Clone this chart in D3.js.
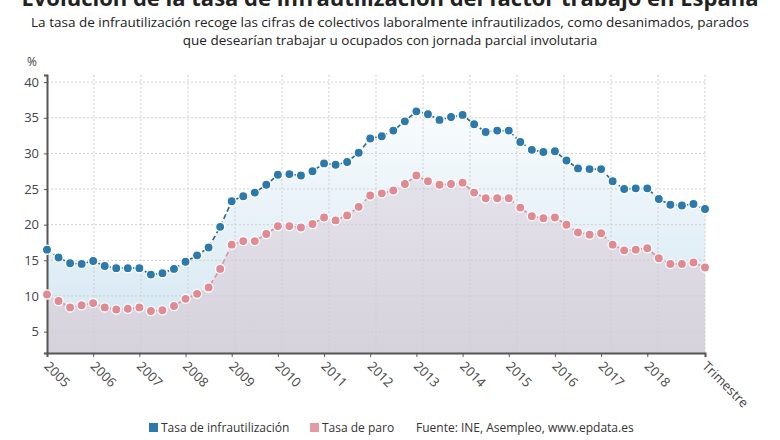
<!DOCTYPE html>
<html lang="es">
<head>
<meta charset="UTF-8">
<title>Evolución de la tasa de infrautilización</title>
<script src="https://cdn.jsdelivr.net/npm/d3@7"></script>
<style>
  body { margin: 0; background: #fff; }
  svg { font-family: "Open Sans", sans-serif; display: block; }
  .grid line { stroke: #cfcfcf; stroke-dasharray: 2,2; }
</style>
</head>
<body>
<div id="chart"></div>
<script>
// --- data ---
var years = d3.range(2005, 2020)
var quarters = []
years.forEach(function(y){ [1,2,3,4].forEach(function(q){ quarters.push(y + "T" + q) }) })
quarters = quarters.slice(0, 58) // 2005T1 .. 2019T2

var infrautilizacion = [16.5,15.4,14.6,14.5,14.9,14.2,13.9,13.9,13.9,13.0,13.2,13.8,
  14.8,15.7,16.8,19.7,23.3,24.0,24.5,25.6,27.0,27.1,26.9,27.5,28.6,28.4,28.8,30.1,
  32.1,32.4,33.2,34.5,35.9,35.5,34.7,35.1,35.4,34.1,33.0,33.2,33.2,31.6,30.5,30.2,
  30.3,29.0,27.9,27.8,27.8,26.1,25.0,25.1,25.1,23.6,22.8,22.7,22.9,22.2]
var paro = [10.2,9.3,8.4,8.7,9.0,8.4,8.1,8.2,8.4,7.9,8.0,8.6,
  9.6,10.3,11.2,13.8,17.2,17.7,17.7,18.7,19.8,19.8,19.6,20.1,21.0,20.6,21.3,22.5,
  24.1,24.4,24.8,25.7,26.9,26.1,25.6,25.7,25.9,24.5,23.7,23.7,23.7,22.4,21.2,20.9,
  21.0,20.0,18.9,18.6,18.8,17.2,16.4,16.5,16.7,15.3,14.5,14.5,14.7,14.0]
var yTicks = [5,10,15,20,25,30,35,40]
var xTickLabels = ["2005","2006","2007","2008","2009","2010","2011","2012",
  "2013","2014","2015","2016","2017","2018"]
var xTitle = "Trimestre"
var seriesNames = ["Tasa de infrautilización", "Tasa de paro"]
var fuente = "Fuente: INE, Asempleo, www.epdata.es"

// --- layout ---
var width = 780, height = 440
var svg = d3.select("#chart").append("svg")
  .attr("width", width).attr("height", height)

var x = d3.scalePoint().domain(quarters).range([47, 705])
var y = d3.scaleLinear().domain([2, 41]).range([353, 75])
var lastQ = quarters[quarters.length - 1]

var defs = svg.append("defs")
var gBlue = defs.append("linearGradient").attr("id", "gBlue")
  .attr("gradientUnits", "userSpaceOnUse").attr("x1", 0).attr("x2", 0)
  .attr("y1", y(38)).attr("y2", y(2))
gBlue.append("stop").attr("offset", 0).attr("stop-color", "#fbfdfe")
gBlue.append("stop").attr("offset", 1).attr("stop-color", "#d2e6f2")
var gRed = defs.append("linearGradient").attr("id", "gRed")
  .attr("gradientUnits", "userSpaceOnUse").attr("x1", 0).attr("x2", 0)
  .attr("y1", y(27)).attr("y2", y(2))
gRed.append("stop").attr("offset", 0).attr("stop-color", "#e4e2ea")
gRed.append("stop").attr("offset", 1).attr("stop-color", "#d6d2dc")

// title (cut at the top like the source) and subtitle
svg.append("text").attr("x", 390).attr("y", 6).attr("text-anchor", "middle")
  .attr("font-size", 22).attr("font-weight", 700).attr("fill", "#222")
  .text("Evolución de la tasa de infrautilización del factor trabajo en España")
svg.append("text").attr("x", 390).attr("y", 27).attr("text-anchor", "middle")
  .attr("font-size", 13.5).attr("fill", "#222")
  .text("La tasa de infrautilización recoge las cifras de colectivos laboralmente infrautilizados, como desanimados, parados")
svg.append("text").attr("x", 390).attr("y", 45).attr("text-anchor", "middle")
  .attr("font-size", 13.5).attr("fill", "#222")
  .text("que desearían trabajar u ocupados con jornada parcial involutaria")

// areas
var idx = d3.range(quarters.length)
var areaBlue = d3.area().x(function(i){ return x(quarters[i]) })
  .y0(y(2)).y1(function(i){ return y(infrautilizacion[i]) })
var areaRed = d3.area().x(function(i){ return x(quarters[i]) })
  .y0(y(2)).y1(function(i){ return y(paro[i]) })
svg.append("path").datum(idx).attr("d", areaBlue).attr("fill", "url(#gBlue)")
svg.append("path").datum(idx).attr("d", areaRed).attr("fill", "url(#gRed)")

// grid: horizontal at y ticks, vertical splitting the plot in 14 equal parts
var grid = svg.append("g").attr("class", "grid")
grid.selectAll(".h").data(yTicks).enter().append("line")
  .attr("x1", x.range()[0]).attr("x2", x.range()[1])
  .attr("y1", function(d){ return y(d) }).attr("y2", function(d){ return y(d) })
var gx = d3.scaleLinear().domain([0, 14]).range(x.range())
grid.selectAll(".v").data(d3.range(1, 15)).enter().append("line")
  .attr("x1", function(d){ return gx(d) }).attr("x2", function(d){ return gx(d) })
  .attr("y1", y(41)).attr("y2", y(2))

// axes
var yAxis = svg.append("g").attr("transform", "translate(47,0)")
  .call(d3.axisLeft(y).tickValues(yTicks).tickSize(3).tickPadding(5))
yAxis.select(".domain").attr("stroke", "#555").attr("stroke-width", 2)
yAxis.selectAll(".tick line").attr("stroke", "#555")
yAxis.selectAll("text").attr("font-size", 13).attr("fill", "#444")
  .attr("font-family", "Open Sans")
svg.append("text").attr("x", 32).attr("y", 66).attr("text-anchor", "middle")
  .attr("font-size", 12).attr("fill", "#444").text("%")

var tickQs = xTickLabels.map(function(l){ return l + "T1" }).concat([lastQ])
var xAxis = svg.append("g").attr("transform", "translate(0," + y(2) + ")")
  .call(d3.axisBottom(x).tickValues(tickQs)
    .tickSize(4).tickFormat(function(d){ return d === lastQ ? xTitle : d.slice(0, 4) }))
xAxis.select(".domain").attr("stroke", "#555").attr("stroke-width", 2)
xAxis.selectAll(".tick line").attr("stroke", "#555")
xAxis.selectAll("text").attr("font-size", 13).attr("fill", "#444")
  .attr("font-family", "Open Sans")
  .attr("text-anchor", "start").attr("dy", 0)
  .attr("transform", "translate(1,9) rotate(45)")

// lines and markers
var series = [
  { values: infrautilizacion, line: "#2d6588", dot: "#2b7aab" },
  { values: paro, line: "#d9949b", dot: "#e08a93" }
]
series.forEach(function(s){
  var line = d3.line().x(function(i){ return x(quarters[i]) })
    .y(function(i){ return y(s.values[i]) })
  svg.append("path").datum(idx).attr("d", line).attr("fill", "none")
    .attr("stroke", s.line).attr("stroke-width", 1.6).attr("stroke-dasharray", "5,3")
  svg.append("g").selectAll("circle").data(idx).enter().append("circle")
    .attr("cx", function(i){ return x(quarters[i]) })
    .attr("cy", function(i){ return y(s.values[i]) })
    .attr("r", 4.6).attr("fill", s.dot)
    .attr("stroke", "#fff").attr("stroke-width", 1.3)
})

// legend
var legend = svg.append("g").attr("font-size", 12).attr("fill", "#333")
var legendItems = [
  { name: seriesNames[0], color: "#2b7aab", x: 149 },
  { name: seriesNames[1], color: "#e39aa1", x: 310 }
]
legendItems.forEach(function(d){
  legend.append("rect").attr("x", d.x).attr("y", 423).attr("width", 9).attr("height", 9)
    .attr("fill", d.color)
  legend.append("text").attr("x", d.x + 12).attr("y", 432).text(d.name)
})
legend.append("text").attr("x", 416).attr("y", 432).text(fuente)
</script>
</body>
</html>
